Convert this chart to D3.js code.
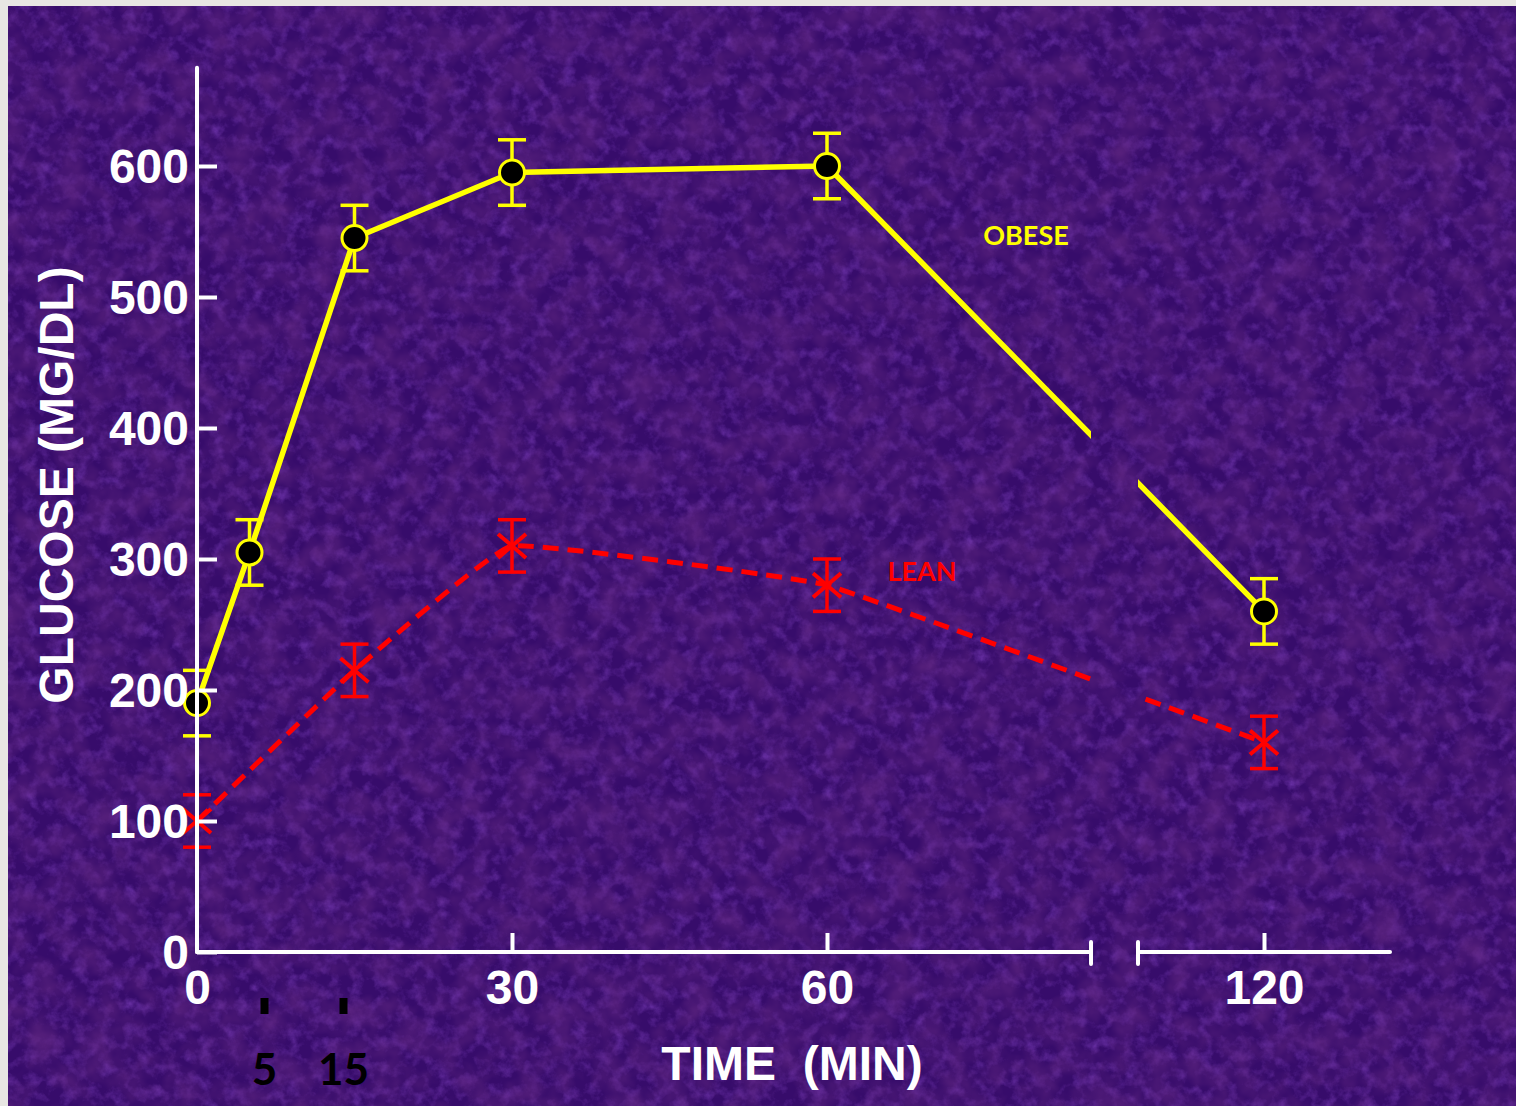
<!DOCTYPE html>
<html>
<head>
<meta charset="utf-8">
<script src="https://cdn.jsdelivr.net/npm/d3@7"></script>
<style>
  html, body { margin: 0; padding: 0; background: #e8e6e3; }
  svg { display: block; }
</style>
</head>
<body>
<svg id="chart" width="1516" height="1106"></svg>
<script>
// ---- data ----
const times = [0, 5, 15, 30, 60, 120];
const obeseValues = [190, 305, 545, 595, 600, 260];
const obeseErrors = [25, 25, 25, 25, 25, 25];
const leanTimes = [0, 15, 30, 60, 120];
const leanValues = [100, 215, 310, 280, 160];
const leanErrors = [20, 20, 20, 20, 20];
const yTicks = [0, 100, 200, 300, 400, 500, 600];
const xTicks = [0, 30, 60, 120];
const extraTimes = [5, 15];
const axisBreak = [96.25, 102.7];   // broken-axis gap (minutes)
const axisEndTime = 137.3;
const yTop = 675;

const W = 1516, H = 1106;
const svg = d3.select("#chart");

// ---- background ----
const defs = svg.append("defs");
const f1 = defs.append("filter").attr("id", "texLight").attr("x", 0).attr("y", 0).attr("width", "100%").attr("height", "100%");
f1.append("feTurbulence").attr("type", "fractalNoise").attr("baseFrequency", "0.08").attr("numOctaves", 4).attr("seed", 7);
f1.append("feColorMatrix").attr("type", "matrix")
  .attr("values", "0 0 0 0 0.30  0 0 0 0 0.08  0 0 0 0 0.68  1.0 0 0 0 -0.44");
const f2 = defs.append("filter").attr("id", "texDark").attr("x", 0).attr("y", 0).attr("width", "100%").attr("height", "100%");
f2.append("feTurbulence").attr("type", "fractalNoise").attr("baseFrequency", "0.035").attr("numOctaves", 3).attr("seed", 21);
f2.append("feColorMatrix").attr("type", "matrix")
  .attr("values", "0 0 0 0 0.12  0 0 0 0 0.02  0 0 0 0 0.22  1.3 0 0 0 -0.45");

svg.append("rect").attr("x", 0).attr("y", 0).attr("width", W).attr("height", H).attr("fill", "#e8e6e3");
svg.append("rect").attr("x", 8).attr("y", 6).attr("width", W - 8).attr("height", H - 6).attr("fill", "#370c6b");
svg.append("rect").attr("x", 8).attr("y", 6).attr("width", W - 8).attr("height", H - 6).attr("filter", "url(#texLight)");
svg.append("rect").attr("x", 8).attr("y", 6).attr("width", W - 8).attr("height", H - 6).attr("filter", "url(#texDark)");

// ---- scales ----
const x = d3.scaleLinear().domain([0, 60, 120]).range([197, 827, 1264]);
const y = d3.scaleLinear().domain([0, 600]).range([952, 166]);

// clip out the axis break
const clip = defs.append("clipPath").attr("id", "brk");
clip.append("rect").attr("x", 0).attr("y", 0).attr("width", x(axisBreak[0])).attr("height", H);
clip.append("rect").attr("x", x(axisBreak[1])).attr("y", 0).attr("width", W - x(axisBreak[1])).attr("height", H);

const YEL = "#ffff00", RED = "#ff0000", WHITE = "#ffffff";

const obese = times.map((t, i) => ({ t, v: obeseValues[i], e: obeseErrors[i] }));
const lean = leanTimes.map((t, i) => ({ t, v: leanValues[i], e: leanErrors[i] }));

function errorBars(data, color, cap) {
  const g = svg.append("g").attr("stroke", color).attr("stroke-width", 3.5).attr("fill", "none");
  data.forEach(d => {
    g.append("line").attr("x1", x(d.t)).attr("x2", x(d.t)).attr("y1", y(d.v + d.e)).attr("y2", y(d.v - d.e));
    g.append("line").attr("x1", x(d.t) - cap).attr("x2", x(d.t) + cap).attr("y1", y(d.v + d.e)).attr("y2", y(d.v + d.e));
    g.append("line").attr("x1", x(d.t) - cap).attr("x2", x(d.t) + cap).attr("y1", y(d.v - d.e)).attr("y2", y(d.v - d.e));
  });
}
errorBars(obese, YEL, 14);
errorBars(lean, RED, 14);

svg.append("path").datum(lean)
  .attr("clip-path", "url(#brk)")
  .attr("d", d3.line().x(d => x(d.t)).y(d => y(d.v)).curve(d3.curveCardinal.tension(0.75)))
  .attr("fill", "none").attr("stroke", RED).attr("stroke-width", 5)
  .attr("stroke-dasharray", "16,9");

svg.append("path").datum(obese)
  .attr("clip-path", "url(#brk)")
  .attr("d", d3.line().x(d => x(d.t)).y(d => y(d.v)))
  .attr("fill", "none").attr("stroke", YEL).attr("stroke-width", 5.5);

// markers
svg.append("g").selectAll("circle").data(obese).join("circle")
  .attr("cx", d => x(d.t)).attr("cy", d => y(d.v)).attr("r", 12.5)
  .attr("fill", "#000").attr("stroke", YEL).attr("stroke-width", 3);

const xm = svg.append("g").attr("stroke", RED).attr("stroke-width", 4);
lean.forEach(d => {
  const cx = x(d.t), cy = y(d.v);
  xm.append("line").attr("x1", cx - 14).attr("y1", cy - 12).attr("x2", cx + 14).attr("y2", cy + 12);
  xm.append("line").attr("x1", cx - 14).attr("y1", cy + 12).attr("x2", cx + 14).attr("y2", cy - 12);
});

// ---- axes ----
const fontMain = "'Liberation Sans', Arial, sans-serif";

const yAxis = svg.append("g").attr("transform", `translate(${x(0)},0)`)
  .call(d3.axisLeft(y).tickValues(yTicks).tickSizeInner(-20).tickSizeOuter(0).tickPadding(8));
yAxis.select(".domain").remove();
yAxis.selectAll(".tick line").attr("stroke", WHITE).attr("stroke-width", 4);
yAxis.selectAll(".tick text").attr("fill", WHITE).attr("font-family", fontMain)
  .attr("font-weight", "bold").attr("font-size", 48).attr("dy", "0.35em");
svg.append("line").attr("x1", x(0)).attr("x2", x(0)).attr("y1", y(yTop)).attr("y2", y(0))
  .attr("stroke", WHITE).attr("stroke-width", 4).attr("stroke-linecap", "round");

const xAxis = svg.append("g").attr("transform", `translate(0,${y(0)})`)
  .call(d3.axisBottom(x).tickValues(xTicks).tickFormat(d3.format("d")).tickSizeInner(-19).tickSizeOuter(0).tickPadding(18));
xAxis.select(".domain").remove();
xAxis.selectAll(".tick line").attr("stroke", WHITE).attr("stroke-width", 4)
  .attr("display", d => d === 0 ? "none" : null);
xAxis.selectAll(".tick text").attr("fill", WHITE).attr("font-family", fontMain)
  .attr("font-weight", "bold").attr("font-size", 48);

// broken x-axis segments
const segs = [[0, axisBreak[0]], [axisBreak[1], axisEndTime]];
segs.forEach(s => {
  svg.append("line").attr("x1", x(s[0])).attr("x2", x(s[1])).attr("y1", y(0)).attr("y2", y(0))
    .attr("stroke", WHITE).attr("stroke-width", 4).attr("stroke-linecap", "round");
});
axisBreak.forEach(b => {
  svg.append("line").attr("x1", x(b)).attr("x2", x(b)).attr("y1", y(0) - 10).attr("y2", y(0) + 12)
    .attr("stroke", WHITE).attr("stroke-width", 4).attr("stroke-linecap", "round");
});

// extra time annotations (5, 15)
const annX = d3.scaleLinear().domain(extraTimes).range([x(extraTimes[0]) + 15, x(extraTimes[1]) - 11]);
extraTimes.forEach(t => {
  svg.append("rect").attr("x", annX(t) - 4).attr("y", y(0) + 46).attr("width", 8).attr("height", 16).attr("fill", "#000");
  svg.append("text").attr("x", annX(t)).attr("y", y(0) + 133).attr("text-anchor", "middle")
    .attr("font-family", "Lato, 'Open Sans', sans-serif").attr("font-weight", "bold").attr("font-size", 44)
    .attr("fill", "#000").text(t);
});

// axis titles
svg.append("text").attr("x", 792).attr("y", 1080).attr("text-anchor", "middle")
  .attr("font-family", fontMain).attr("font-weight", "bold").attr("font-size", 48)
  .attr("fill", WHITE).attr("xml:space", "preserve").style("white-space", "pre").text("TIME  (MIN)");

svg.append("text").attr("transform", `translate(73,485) rotate(-90)`).attr("text-anchor", "middle")
  .attr("font-family", fontMain).attr("font-weight", "bold").attr("font-size", 48)
  .attr("fill", WHITE).text("GLUCOSE (MG/DL)");

// series labels
svg.append("text").attr("x", 1026).attr("y", 245).attr("text-anchor", "middle")
  .attr("font-family", "Lato, 'Open Sans', sans-serif").attr("font-weight", "bold").attr("font-size", 27)
  .attr("fill", YEL).text("OBESE");
svg.append("text").attr("x", 922).attr("y", 581).attr("text-anchor", "middle")
  .attr("font-family", "Lato, 'Open Sans', sans-serif").attr("font-weight", "bold").attr("font-size", 27)
  .attr("fill", RED).text("LEAN");
</script>
</body>
</html>
